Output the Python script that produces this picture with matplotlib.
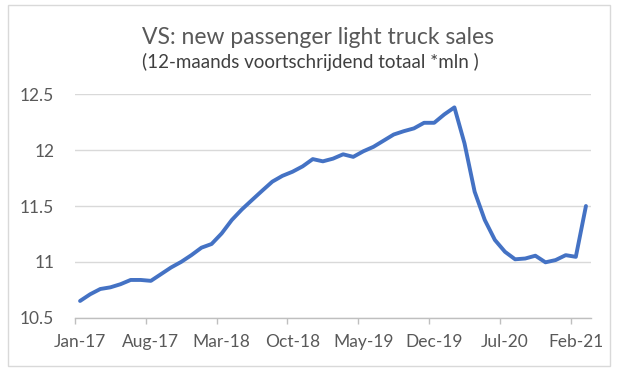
import matplotlib.pyplot as plt
from matplotlib.patches import Rectangle
from matplotlib.ticker import FixedLocator
import pandas as pd

# 12-maands voortschrijdend totaal, jan-2017 t/m mrt-2021 (mln)
maanden = pd.date_range("2017-01-01", "2021-03-01", freq="MS")
verkopen = [
    10.65, 10.71, 10.757, 10.772, 10.80, 10.838, 10.838, 10.83, 10.89, 10.95,
    11.00, 11.06, 11.127, 11.16, 11.255, 11.375, 11.47, 11.554, 11.637, 11.718,
    11.77, 11.807, 11.855, 11.92, 11.90, 11.924, 11.963, 11.94, 11.99, 12.03,
    12.085, 12.14, 12.17, 12.195, 12.245, 12.245, 12.32, 12.383, 12.06, 11.628,
    11.375, 11.196, 11.09, 11.023, 11.03, 11.055, 10.996, 11.016, 11.06, 11.045,
    11.50,
]
tick_labels = ["Jan-17", "Aug-17", "Mar-18", "Oct-18", "May-19", "Dec-19", "Jul-20", "Feb-21"]
y_ticks = [10.5, 11, 11.5, 12, 12.5]

plt.rcParams['font.family'] = ['Lato', 'DejaVu Sans']
tekst = '#595959'

fig = plt.figure(figsize=(6.25, 3.78), dpi=100)
ax = fig.add_axes([0.12, 0.1595, 0.8256, 0.591])

x = list(range(len(verkopen)))
ax.plot(x, verkopen, color='#4472c4', linewidth=2.8, solid_joinstyle='round', solid_capstyle='round')

ax.set_xlim(-0.5, len(verkopen) - 0.5)
ax.set_ylim(10.5, 12.5)

# labels midden in de categorie, streepjes op de grenzen
label_pos = [x[i] for i in range(0, len(x), 7)]
ax.set_xticks(label_pos)
ax.set_xticklabels(tick_labels, fontsize=12.5, color=tekst)
ax.tick_params(axis='x', which='major', length=0, pad=12)
ax.xaxis.set_minor_locator(FixedLocator([p - 0.5 for p in label_pos]))
ax.tick_params(axis='x', which='minor', length=4, width=1, color='#bfbfbf', direction='out')

ax.set_yticks(y_ticks)
ax.set_yticklabels(['10.5', '11', '11.5', '12', '12.5'], fontsize=12.5, color=tekst)
ax.tick_params(axis='y', length=0, pad=15)

ax.grid(True, axis='y', color='#d9d9d9', linewidth=1)
ax.set_axisbelow(True)
for s in ['top', 'right', 'left']:
    ax.spines[s].set_visible(False)
ax.spines['bottom'].set_color('#bfbfbf')
ax.spines['bottom'].set_linewidth(1)

fig.text(0.508, 0.9, 'VS: new passenger light truck sales', ha='center', va='center',
         fontsize=16.5, color=tekst)
fig.text(0.497, 0.835, '(12-maands voortschrijdend totaal *mln )', ha='center', va='center',
         fontsize=13.5, color='#404040')

fig.patches.append(Rectangle((8 / 625, 1 - 366 / 378), 602 / 625, 361 / 378,
                             transform=fig.transFigure, fill=False,
                             edgecolor='#d9d9d9', linewidth=1))

fig.savefig('out.png', dpi=100)
